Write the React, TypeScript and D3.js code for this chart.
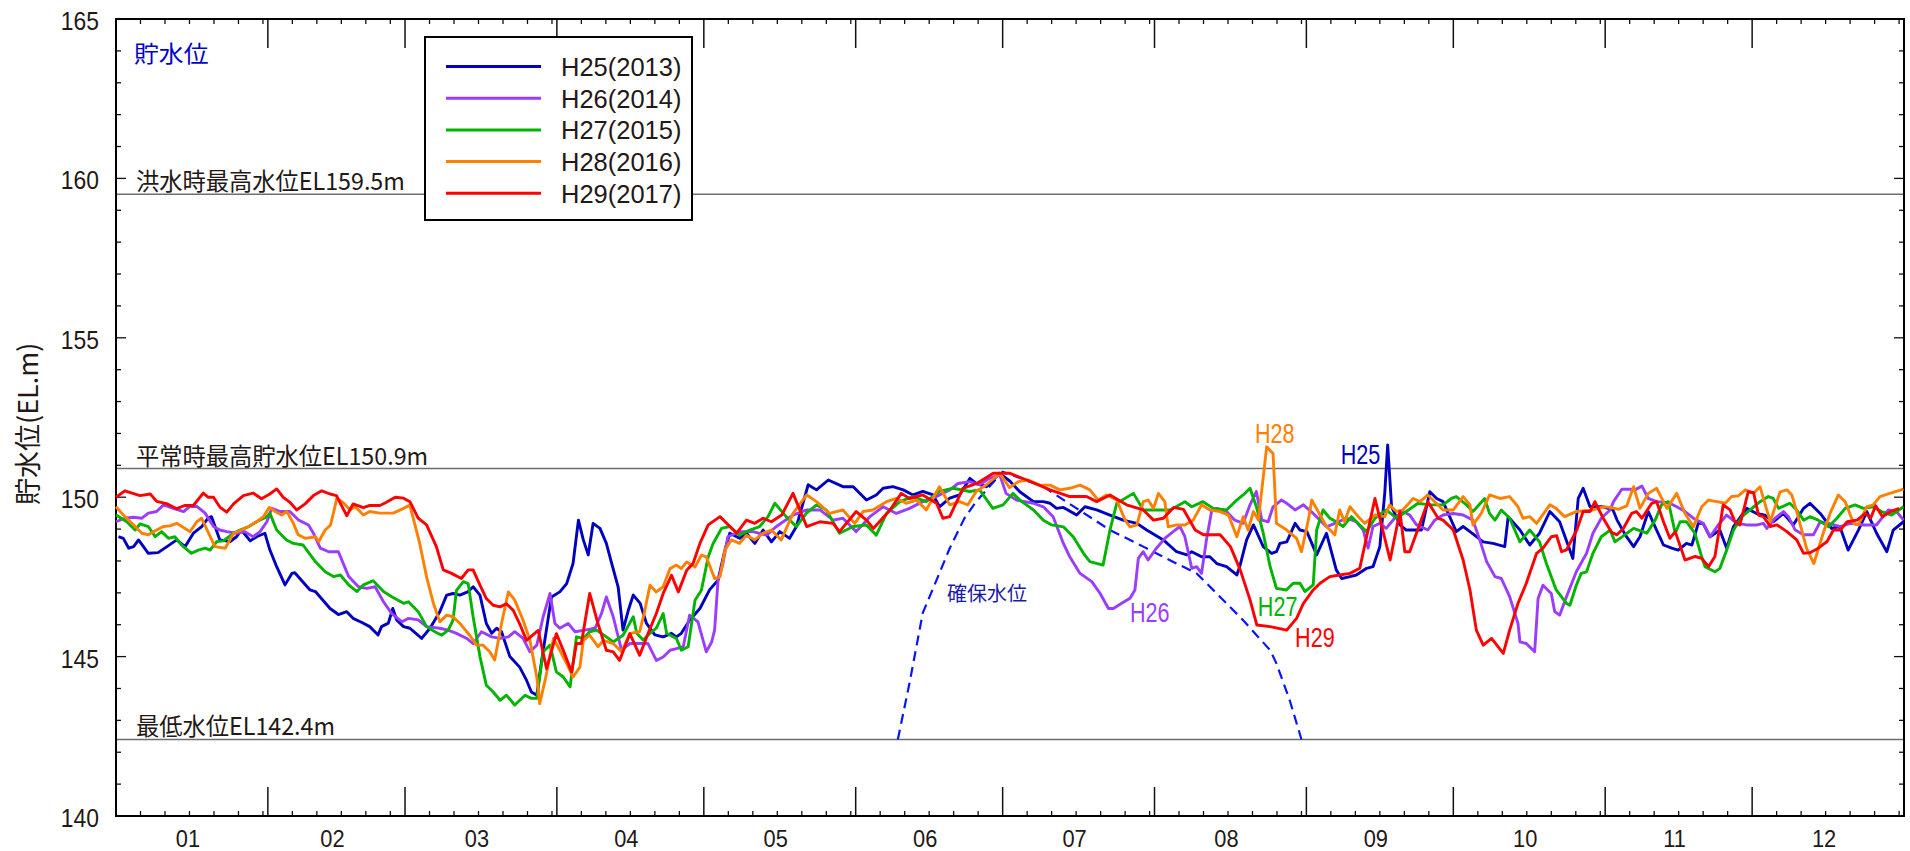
import { useRef, useEffect } from "react";
import * as d3 from "d3";

type Pt = [number, number];

// days from Jan 1, reservoir level (EL.m)
const MONTH_DAYS = [31, 28, 31, 30, 31, 30, 31, 31, 30, 31, 30, 31];
const MONTH_LABELS = ["01", "02", "03", "04", "05", "06", "07", "08", "09", "10", "11", "12"];
const Y_TICKS = [140, 145, 150, 155, 160, 165];

const LEVELS = [159.5, 150.9, 142.4];
const LEVEL_LABELS = ["洪水時最高水位EL159.5m", "平常時最高貯水位EL150.9m", "最低水位EL142.4m"];

const SERIES_NAMES = ["H25(2013)", "H26(2014)", "H27(2015)", "H28(2016)", "H29(2017)"];
const SERIES_SHORT = ["H25", "H26", "H27", "H28", "H29"];
const SERIES_COLORS = ["#0000c0", "#9b3dff", "#00b400", "#ff8000", "#ff0000"];

const H25: Pt[] = [[0.5,148.76],[1.5,148.71],[2.6,148.4],[3.6,148.45],[4.6,148.66],[6.6,148.24],[8.6,148.26],[10.4,148.45],[12.4,148.66],[14.1,148.45],[15.8,148.87],[17.5,149.08],[18.8,149.34],[19.5,149.39],[21.2,148.66],[23.3,148.61],[24.6,148.76],[25.6,148.97],[27.4,148.63],[28.7,148.76],[30.4,148.87],[31.4,148.35],[32.8,147.82],[34.5,147.25],[35.9,147.61],[36.5,147.63],[39.6,147.09],[40.7,147.04],[43.7,146.51],[45.4,146.32],[47.1,146.41],[48.4,146.2],[50.2,146.07],[51.8,145.94],[53.5,145.68],[54.2,145.94],[55.6,146.05],[56.5,146.51],[57.3,146.15],[58.7,145.94],[60,145.89],[62.4,145.57],[64.1,145.89],[66.1,146.41],[67.5,146.93],[68.8,146.98],[70.2,146.93],[71.9,147.04],[72.9,147.19],[74.3,146.93],[75.6,146.04],[76.7,145.73],[77.7,145.89],[78.7,145.78],[80.4,145.0],[82.4,144.67],[83.8,144.26],[84.8,143.89],[85.9,143.79],[86.9,144.88],[88.9,146.87],[90.6,147.03],[92,147.29],[93.3,147.92],[94.4,149.28],[95.4,148.66],[96.4,148.19],[97.4,149.18],[98.8,149.02],[100.1,148.55],[101.2,147.92],[102.5,147.19],[103.5,145.83],[104.6,146.46],[105.6,146.93],[107,146.67],[108.3,146.04],[110,145.68],[111.7,145.62],[113.4,145.73],[114.4,145.62],[115.4,145.73],[117.1,146.14],[119.2,146.51],[121.2,147.1],[122.9,147.4],[124.3,148.34],[125.3,148.87],[127.3,148.71],[128.7,148.87],[130.4,148.55],[132.1,148.97],[133.8,148.6],[135.5,148.92],[137.5,148.71],[138.9,149.08],[141.3,150.39],[143,150.23],[145.4,150.54],[148.4,150.33],[150.5,150.33],[153.2,149.91],[155.2,150.07],[156.6,150.28],[158.6,150.33],[160.7,150.23],[162.7,150.07],[164.7,150.18],[166.8,150.07],[168.1,149.7],[170.2,149.97],[172.2,150.07],[174.3,150.59],[175.6,150.43],[177.7,150.33],[180.4,150.75],[182.5,150.5],[184.5,150.17],[187.3,149.86],[189.3,149.86],[190.7,149.81],[192,149.65],[193.4,149.68],[196.1,149.44],[197.8,149.7],[200.2,149.6],[202.9,149.44],[205.6,149.28],[208.4,149.18],[210.4,148.97],[213.8,148.66],[216.5,148.29],[218.6,148.19],[219.6,148.29],[221.6,148.13],[223.3,148.13],[224.7,147.92],[226.7,147.82],[228.8,147.56],[229.4,147.82],[230.8,148.66],[232.2,149.13],[234.2,148.45],[235.9,148.24],[236.9,148.29],[237.6,148.55],[239,148.6],[240.7,149.18],[241.7,148.97],[243.1,148.92],[245.1,148.19],[247.1,148.87],[249.1,147.72],[250.2,147.45],[251.9,147.51],[253.2,147.56],[255.3,147.77],[256.6,147.82],[258,148.45],[259,150.12],[259.6,151.64],[260.4,149.7],[262.1,149.13],[263.4,148.97],[266.5,148.97],[268.2,150.17],[269.6,149.96],[270.9,149.86],[273.6,148.92],[275,149.08],[276.4,148.92],[279.1,148.6],[281.1,148.55],[283.5,148.45],[284.2,149.39],[286.6,148.97],[288.6,148.5],[290.6,148.87],[292.7,149.55],[294.7,149.23],[297.4,148.08],[298.5,149.96],[299.5,150.28],[300.9,149.7],[303.6,149.7],[305.6,149.6],[306.4,149.29],[308.1,148.82],[309.8,148.45],[311.1,148.76],[312.8,149.55],[314.5,148.97],[315.9,148.5],[317.6,148.4],[318.9,148.34],[320.6,148.55],[321.7,148.5],[323,149.18],[324,149.18],[325.4,148.76],[327.4,148.97],[328.8,148.4],[330.2,149.08],[332.9,149.65],[334.9,149.49],[336.6,149.44],[338.3,149.23],[340.4,149.49],[342.4,149.13],[344.5,149.65],[345.8,149.81],[347.9,149.49],[350.2,149.02],[351.9,149.08],[353.6,148.34],[355.7,148.97],[357.4,149.55],[359.4,148.87],[361.5,148.29],[362.8,148.97],[364.9,149.23]];

const H26: Pt[] = [[0,149.23],[1.8,149.34],[3.6,149.37],[5.3,149.34],[6.6,149.5],[8.3,149.55],[9.7,149.76],[11.7,149.65],[13.8,149.55],[15.1,149.71],[16.5,149.71],[18.2,149.5],[19.9,149.08],[21.2,148.97],[22.6,148.92],[24.6,148.87],[26.3,148.92],[28,148.76],[29.4,148.92],[30.8,149.23],[31.8,149.65],[33.5,149.55],[35.5,149.55],[37.2,149.29],[39.3,149.13],[40.3,148.87],[41.7,148.4],[43.4,148.29],[45.4,148.29],[47.5,147.51],[49.5,147.19],[51.2,147.14],[52.9,147.19],[54.6,146.72],[56.3,146.35],[58.4,146.09],[59.7,146.2],[61.7,146.15],[63.4,145.94],[66.1,145.89],[67.8,145.83],[69.5,145.73],[71.6,145.57],[72.9,145.41],[74.6,145.78],[76.7,145.62],[78.4,145.57],[80.1,145.62],[81.4,145.78],[83.1,145.57],[84.5,145.15],[85.9,145.36],[87.2,146.25],[88.6,146.98],[89.6,146.04],[90.6,145.89],[92.3,146.04],[93.7,145.78],[95.7,145.83],[97.8,145.89],[99.1,146.35],[100.1,146.87],[101.5,146.25],[103.2,145.2],[104.9,145.41],[106.9,145.41],[108.6,145.41],[110.3,144.88],[111.7,144.99],[113.1,145.2],[114.4,145.25],[115.8,145.31],[117.1,146.3],[118.8,146.09],[120.5,145.15],[121.6,145.46],[122.2,145.83],[122.9,147.4],[123.9,147.92],[124.9,148.76],[127.3,148.92],[130,148.92],[132.8,148.81],[134.8,149.08],[138.2,149.44],[141,149.6],[143.7,149.6],[146.4,149.28],[148.4,149.34],[151.1,148.92],[153.9,149.39],[156.6,149.7],[159.3,149.49],[162,149.65],[164.7,149.86],[167.5,150.02],[170.2,150.23],[171.9,150.43],[174.3,150.49],[176.3,150.39],[178.3,150.59],[180.4,150.7],[181.7,150.12],[183.8,149.91],[187.3,149.81],[189.3,149.7],[191.3,149.39],[193.4,148.55],[194.7,148.13],[196.8,147.61],[199.2,147.35],[200.9,146.98],[202.6,146.51],[203.6,146.51],[205.3,146.67],[207,146.83],[208,147.09],[208.7,148.08],[209.7,148.29],[210.7,148.03],[212.4,148.4],[214.1,148.71],[215.8,148.92],[217.2,149.08],[218.2,148.76],[219.6,147.77],[220.6,147.82],[221.6,147.61],[222.6,148.66],[223.7,149.6],[224.7,149.65],[226.7,149.55],[228.4,149.28],[230.1,149.18],[231.5,149.76],[232.8,150.18],[233.9,149.28],[235.2,149.23],[236.2,149.7],[237.9,149.91],[239,149.81],[240.7,149.6],[242.4,149.76],[244.4,149.49],[245.4,149.34],[247.1,149.07],[248.8,149.18],[251.2,149.34],[253.2,149.23],[254.6,148.97],[255.6,148.4],[256.6,149.08],[258,149.18],[259.3,149.02],[261,149.34],[262.7,149.55],[264.1,149.44],[265.5,149.13],[267.8,148.97],[269.2,149.28],[270.9,149.44],[273,149.49],[275,149.44],[277,149.28],[278.4,148.66],[279.8,147.98],[281.5,147.51],[282.8,147.45],[284.5,146.88],[286.2,146.04],[286.6,145.46],[287.9,145.41],[289.6,145.15],[290.3,146.82],[291.3,147.24],[293,146.98],[293.7,146.41],[294.7,146.3],[296.1,146.88],[298.1,147.66],[300.2,148.24],[301.5,148.87],[303.2,149.34],[305,149.6],[305.7,149.86],[307.4,150.25],[309.1,150.25],[310.1,150.23],[311.5,150.35],[312.8,149.96],[314.5,149.86],[316.9,149.83],[318.6,149.7],[320.3,149.55],[322,149.34],[324,149.18],[325.4,148.76],[327.1,149.13],[328.8,149.44],[330.9,149.18],[332.9,149.13],[335,149.13],[336.3,149.18],[337,149.02],[338.7,149.34],[340.4,149.55],[341.4,149.39],[342.8,148.97],[344.5,148.82],[346.5,148.82],[347.9,149.23],[349.6,149.18],[352,149.08],[354,149.18],[356.7,149.13],[359.4,149.13],[361.8,149.6],[363.5,149.55],[364.9,149.28]];

const H27: Pt[] = [[0,149.44],[2.2,149.23],[3.9,148.97],[4.9,149.16],[6.6,149.08],[8,148.76],[9.3,148.92],[10.7,148.71],[12,148.76],[13.4,148.5],[15.4,148.24],[16.8,148.34],[18.2,148.4],[19.2,148.34],[20.6,148.61],[21.9,148.63],[24,148.87],[25.3,148.97],[27.1,149.08],[28.7,149.23],[30.8,149.39],[31.4,149.5],[32.8,148.97],[34.8,148.66],[36.2,148.55],[38.2,148.5],[40.7,147.98],[42.7,147.66],[44.4,147.51],[45.8,147.56],[47.5,147.25],[49.2,147.04],[50.5,147.25],[52.5,147.38],[54.6,147.04],[56.3,146.88],[58.7,146.67],[59.7,146.72],[61.7,146.41],[63.4,145.94],[65.1,145.78],[66.5,145.67],[67.8,145.83],[68.8,146.14],[69.5,147.08],[70.9,147.35],[71.9,147.29],[72.9,146.25],[74.3,145.0],[75.6,144.1],[77,143.89],[78.4,143.63],[79.7,143.79],[81.4,143.48],[83.5,143.79],[84.8,143.69],[85.9,143.69],[87.2,145.15],[88.6,145.36],[89.9,144.52],[91.3,144.36],[92.7,144.05],[94,145.62],[95.4,145.57],[96.7,145.78],[98.1,145.83],[100.1,145.62],[101.5,145.46],[103.5,145.67],[105.6,146.25],[106.3,145.73],[107.6,145.52],[109,145.73],[110.3,145.89],[111.7,146.35],[112.4,145.73],[114.4,145.57],[115.4,145.2],[116.8,145.31],[118.2,146.77],[119.5,147.08],[120.9,148.13],[121.9,148.55],[123.6,149.02],[125.3,149.08],[127.3,148.81],[129.4,148.97],[131.4,149.08],[133.1,149.39],[134.5,149.81],[136.8,149.39],[138.9,149.08],[140.9,149.49],[143,149.76],[145,149.6],[147.7,148.87],[150.5,149.08],[153.2,149.13],[155.2,148.81],[157.3,149.49],[160,149.86],[162.7,150.02],[165.4,149.86],[168.1,150.18],[170.9,150.28],[174.3,150.18],[176.3,150.23],[179,149.65],[181.1,149.76],[183.1,150.12],[184.5,149.91],[187.3,149.6],[189.3,149.28],[191,149.13],[193.4,149.07],[195.4,148.76],[197.5,148.24],[198.8,147.98],[201.5,147.87],[202.9,148.97],[204.3,149.81],[207.7,150.12],[209.7,149.6],[212.4,149.6],[215.2,149.6],[218.2,149.86],[219.6,149.7],[221.9,149.86],[224,149.65],[226.7,149.6],[228.8,149.91],[230.1,150.07],[231.5,150.28],[232.8,149.7],[234.2,148.87],[235.6,147.82],[236.9,147.14],[238.9,147.09],[240.3,147.3],[241.7,147.3],[242.7,147.04],[244.4,147.25],[245.1,148.97],[246.4,149.6],[247.8,149.34],[249.1,149.23],[250.5,149.08],[252.2,149.39],[253.9,149.13],[255.3,148.92],[257,149.34],[259.3,149.6],[261.4,149.34],[263.4,149.55],[265.8,149.81],[268.2,149.76],[270.9,149.76],[272.6,149.96],[273.6,150.02],[275.7,149.76],[277,149.55],[279.4,149.96],[280.4,149.49],[281.5,149.28],[282.8,149.6],[284.5,149.34],[286.6,148.6],[288.6,148.97],[290.6,148.6],[292,147.92],[294,147.09],[296.1,146.67],[296.8,146.61],[298.1,147.24],[299.1,147.61],[300.2,147.66],[301.5,148.24],[303.2,148.76],[305,148.97],[306,148.6],[307,148.71],[309.8,149.02],[312.5,148.87],[314.2,149.28],[315.5,149.76],[316.9,149.86],[318.3,148.87],[319.3,149.23],[320.6,149.23],[322.3,148.87],[323.7,148.13],[324.4,147.82],[326.4,147.66],[327.4,147.76],[328.8,148.34],[330.2,148.97],[331.9,149.39],[333.6,149.6],[335.6,149.86],[337.3,150.02],[338.3,149.96],[339.4,149.65],[341.7,149.81],[343.1,149.6],[344.5,149.28],[345.8,149.39],[347.5,149.28],[349.6,149.07],[351.3,149.34],[353,149.65],[355,149.76],[356.7,149.65],[358.7,149.7],[360.4,149.55],[362.5,149.44],[364.9,149.7]];

const H28: Pt[] = [[0,149.7],[1.8,149.39],[3.6,149.13],[5.3,148.87],[6.6,148.82],[8.3,148.97],[9.7,149.08],[11,149.1],[12.4,149.18],[14.1,149.02],[15.1,148.92],[16.5,149.23],[17.5,149.34],[18.9,148.87],[20.2,148.45],[22.3,148.4],[24,148.87],[25.6,148.97],[27.1,149.08],[28.7,149.23],[30.1,149.39],[31.3,149.68],[32.5,149.55],[33.8,149.44],[34.9,149.55],[36.2,149.18],[37.2,148.82],[38.6,148.71],[40.7,148.76],[41.4,148.61],[42.7,148.97],[43.8,149.13],[45.1,149.97],[46.5,149.81],[47.8,149.6],[48.8,149.71],[50.5,149.44],[51.8,149.55],[53.9,149.5],[56.6,149.5],[58.7,149.65],[60,149.75],[62,148.55],[63.4,147.5],[64.8,146.67],[66.1,146.09],[67.5,146.3],[68.8,146.25],[70.2,146.04],[72.2,145.67],[73.6,145.36],[74.9,145.36],[76.3,145.15],[77.3,144.89],[78.7,146.04],[80.1,147.03],[81.4,146.77],[83.1,146.14],[84.5,145.51],[85.9,144.36],[86.5,143.52],[87.6,144.26],[89.3,145.57],[90.6,145.2],[92,144.78],[93.3,144.36],[94.7,144.67],[95.4,145.51],[96.7,145.67],[98.4,145.31],[99.5,145.51],[101.5,145.41],[103.2,145.15],[104.9,145.73],[106.9,145.78],[107.9,146.41],[109,147.24],[110.3,147.03],[111.7,147.19],[113.1,147.76],[114.4,147.87],[115.4,147.76],[116.5,147.97],[118.2,147.81],[119.5,148.18],[120.5,148.13],[122.2,147.45],[123.3,147.5],[124.3,148.34],[125.6,148.66],[127.3,148.55],[128.7,148.81],[130.4,148.66],[132.1,148.87],[133.8,148.97],[135.8,148.66],[138.2,149.49],[141,150.07],[143,149.86],[145.7,149.49],[148.4,149.6],[150.8,149.18],[152.5,149.55],[154.5,149.6],[157.3,149.86],[159.3,149.96],[161.3,149.81],[163.4,149.91],[165.4,149.6],[168.1,150.33],[170.2,149.76],[172.2,149.86],[173.9,149.76],[175.6,150.18],[177.7,150.39],[180.4,150.75],[182.4,150.3],[184.2,150.49],[186.2,150.54],[188.6,150.38],[190.7,150.38],[192.7,150.23],[194.7,150.28],[196.8,150.38],[198.8,150.23],[200.5,149.91],[202.2,150.07],[204.3,149.91],[206,149.28],[207,149.07],[208.4,149.13],[209.7,149.86],[210.7,149.91],[211.8,149.65],[212.8,150.12],[214.1,149.86],[214.8,149.07],[216.5,149.13],[218.2,149.13],[219.9,149.28],[221.6,149.76],[223.3,149.6],[225.4,149.55],[227.1,149.44],[228.8,148.76],[230.1,149.39],[231.1,148.97],[232.2,149.55],[233.2,149.28],[234.9,151.58],[236.2,151.37],[236.9,149.18],[239,148.97],[241,148.71],[242,148.29],[243.4,149.28],[244.1,149.91],[245.8,149.44],[247.1,149.08],[248.8,148.82],[249.8,149.6],[250.8,149.23],[251.9,149.7],[253.6,149.39],[254.9,149.18],[257,149.44],[259,149.39],[260,149.76],[261.4,149.55],[262.7,149.6],[264.8,149.96],[266.2,149.86],[267.8,150.07],[269.2,149.86],[270.9,149.6],[273,149.6],[275,150.02],[276.4,149.76],[277,149.13],[278.7,149.49],[280.4,150.07],[282.5,149.96],[284.5,150.02],[286.2,149.7],[287.2,149.34],[288.6,149.39],[290,149.18],[292.7,149.76],[294,149.65],[295.7,149.39],[298.1,149.55],[301.5,149.6],[303.6,149.7],[305,149.68],[306.7,149.62],[308.4,149.73],[309.8,150.33],[311.1,149.65],[312.8,150.12],[314.5,150.28],[316.6,149.65],[318.6,150.12],[320.3,149.49],[322,149.07],[323.7,149.7],[325.1,149.91],[326.8,149.86],[328.5,149.81],[329.8,150.02],[331.2,150.04],[332.6,150.23],[334.3,150.12],[335.6,150.33],[337.7,149.23],[339.7,150.17],[341.1,150.23],[342.1,150.07],[343.1,149.55],[345.1,148.4],[346.6,147.92],[348.5,148.87],[349.9,149.49],[351.6,150.07],[353,149.86],[354.7,149.18],[355.7,149.13],[357.4,149.7],[358.7,149.76],[360.1,150.02],[362.1,150.12],[364.9,150.25]];

const H29: Pt[] = [[0,150.0],[1.8,150.2],[4.9,150.05],[7,150.1],[8.3,149.87],[10.3,149.8],[12.4,149.64],[14,149.74],[15.8,149.74],[17.8,150.13],[18.8,150.0],[19.9,150.0],[21.2,149.69],[22.6,149.53],[24,149.79],[26,150.05],[28,150.13],[29.7,149.95],[31.4,150.1],[32.8,150.26],[34.1,150.0],[35.5,149.84],[36.9,149.6],[38.6,149.79],[40.3,150.05],[42,150.2],[43.7,150.1],[45,150.05],[47.1,149.42],[48.4,149.79],[50.5,149.67],[51.8,149.74],[53.9,149.74],[55.2,149.84],[57,150.0],[58.7,149.97],[60,149.86],[61.7,149.34],[63.4,149.13],[65.4,148.45],[66.8,147.72],[68.5,147.61],[70.5,147.45],[71.9,147.72],[72.9,147.72],[74.3,147.24],[75.6,146.82],[77,146.61],[78.4,146.56],[79.7,146.66],[81.1,146.45],[82.4,146.03],[83.8,145.51],[86.2,145.82],[87.9,144.62],[89.9,145.72],[91.3,145.2],[93,144.52],[94,145.41],[95,145.41],[96.7,146.98],[98.4,146.03],[100.1,145.2],[101.5,145.15],[102.8,144.88],[104.9,145.72],[106.9,145.04],[108.6,145.72],[110.3,146.35],[111.7,146.98],[113.4,147.55],[114.8,147.03],[116.5,147.71],[117.8,147.92],[119.2,148.55],[120.9,149.13],[123.3,149.39],[126.7,148.87],[128.7,149.28],[130.4,149.18],[132.1,149.34],[133.8,149.23],[135.9,149.44],[138.2,150.12],[141,149.08],[143.7,149.23],[146.4,149.18],[147.7,148.92],[151.1,149.55],[153.2,149.28],[154.6,149.02],[158,149.6],[160.3,150.12],[162,149.96],[164.7,150.07],[167.5,149.81],[168.8,149.34],[170.2,149.39],[172.9,150.28],[175.7,150.43],[179.1,150.75],[182.5,150.75],[185.9,150.54],[190.7,150.23],[194.7,150.02],[198.1,150.02],[200.2,149.86],[202.9,150.07],[206.3,149.76],[209.7,149.6],[211.8,149.28],[213.8,149.34],[215.9,149.68],[217.9,149.62],[220.3,148.97],[222,148.82],[225.4,148.82],[227.5,148.45],[229.5,147.72],[231.5,146.78],[232.9,145.99],[235.6,145.94],[239,145.83],[241,146.2],[242.4,146.67],[244.4,147.09],[245.8,147.3],[247.8,147.51],[249.8,147.56],[251.9,147.61],[253.9,147.77],[257,149.96],[260.1,148.03],[262.1,149.55],[263.1,148.29],[264.1,148.29],[267.8,149.86],[269.9,149.34],[270.9,149.28],[273,148.97],[275,148.03],[276.4,147.09],[277.7,145.83],[279.1,145.36],[280.8,145.57],[283.2,145.1],[284.5,145.83],[286.2,146.67],[287.9,147.3],[290,148.24],[291.3,148.4],[293,148.76],[294.1,148.79],[295.1,148.29],[296.1,148.35],[298.2,148.97],[299.5,149.55],[300.9,149.55],[301.9,149.86],[303.6,149.34],[305.3,148.9],[306.4,148.82],[307.7,149.02],[309.4,149.49],[310.4,149.55],[311.5,149.34],[313.5,149.81],[314.5,149.86],[315.9,149.23],[317.2,148.71],[318.3,148.92],[320.3,148.03],[322.4,148.14],[323.7,148.08],[325.1,147.82],[326.4,148.14],[328.1,149.76],[329.5,149.6],[330.5,149.23],[331.5,149.13],[333.2,150.17],[334.3,150.14],[335.3,149.44],[336.3,149.39],[337.7,149.08],[339.1,149.13],[341.1,148.92],[343.1,148.66],[344.5,148.24],[345.8,148.26],[347.5,148.4],[349.3,148.61],[350.6,148.97],[352,148.97],[353.4,149.23],[355.4,149.28],[357.1,149.49],[358.2,149.34],[359.2,149.73],[360.6,149.39],[362.3,149.55],[364,149.65]];

// 確保水位 (dashed guide curve)
const KAKUHO: Pt[] = [[159.6,142.4],[162,144.18],[164.7,146.37],[167.5,147.4],[170.2,148.4],[173.2,149.34],[175.6,149.86],[177.7,150.23],[181,150.8],[189.3,150.33],[196.1,149.65],[202.9,148.97],[209.7,148.45],[216.5,147.92],[220.6,147.61],[224.7,146.98],[230.1,146.14],[235.6,145.2],[236.9,144.78],[239.6,143.63],[242,142.4]];

// where the short series names sit (day, level at baseline)
const SHORT_LABEL_AT: Pt[] = [[250, 151.04], [207, 146.09], [233.1, 146.27], [232.5, 151.7], [240.7, 145.3]];

const LATIN = '"Liberation Sans", Arial, sans-serif';
const CJK = '"Noto Sans CJK JP", "Noto Sans CJK SC", sans-serif';
const INK = "#231815";

export default function App() {
  const svgRef = useRef<SVGSVGElement>(null);

  useEffect(() => {
    if (!svgRef.current) return;
    document.body.style.margin = "0";
    document.body.style.overflow = "hidden";

    const W = 1910;
    const H = 851;
    const svg = d3.select(svgRef.current);
    svg.selectAll("*").remove();
    svg.attr("width", W).attr("height", H).attr("viewBox", `0 0 ${W} ${H}`);

    const x = d3.scaleLinear().domain([0, 365]).range([116, 1904]);
    const y = d3.scaleLinear().domain([140, 165]).range([816, 19]);
    const [x0, x1] = x.range();
    const [y0, y1] = y.range();

    // squeezed text helper (the source font is narrow)
    const label = (
      g: d3.Selection<SVGGElement, unknown, null, undefined>,
      tx: number, ty: number, str: string,
      opts: { size: number; sx?: number; anchor?: string; fill?: string; family?: string }
    ) =>
      g.append("text")
        .attr("transform", `translate(${tx},${ty}) scale(${opts.sx ?? 1},1)`)
        .attr("text-anchor", opts.anchor ?? "start")
        .style("font-family", opts.family ?? LATIN)
        .style("font-size", `${opts.size}px`)
        .style("fill", opts.fill ?? INK)
        .text(str);

    const root = svg.append("g");

    // reference levels
    LEVELS.forEach((lv, i) => {
      root.append("line")
        .attr("x1", x0).attr("x2", x1)
        .attr("y1", y(lv)).attr("y2", y(lv))
        .attr("stroke", "#6e6e6e").attr("stroke-width", 1.5);
      label(root, 136, y(lv) - 4, LEVEL_LABELS[i], { size: 24, sx: 0.97, family: CJK });
    });

    // month ticks
    const starts = [0, ...d3.cumsum(MONTH_DAYS)];
    const ticks = root.append("g").attr("stroke", "#111");
    MONTH_DAYS.forEach((n, m) => {
      const s = starts[m];
      if (m > 0) {
        ticks.append("line").attr("x1", x(s)).attr("x2", x(s)).attr("y1", y0).attr("y2", y0 - 29).attr("stroke-width", 1.5);
        ticks.append("line").attr("x1", x(s)).attr("x2", x(s)).attr("y1", y1).attr("y2", y1 + 29).attr("stroke-width", 1.5);
      }
      for (let k = 5; k < n; k += 5) {
        ticks.append("line").attr("x1", x(s + k)).attr("x2", x(s + k)).attr("y1", y0).attr("y2", y0 - 5).attr("stroke-width", 1.3);
        ticks.append("line").attr("x1", x(s + k)).attr("x2", x(s + k)).attr("y1", y1).attr("y2", y1 + 5).attr("stroke-width", 1.3);
      }
      label(root, (x(s) + x(s + n)) / 2 - 4, 847, MONTH_LABELS[m], { size: 23, sx: 0.95, anchor: "middle" });
    });

    // level ticks, both sides
    d3.range(140, 166).forEach((v) => {
      const len = v % 5 === 0 ? 10 : 5;
      ticks.append("line").attr("x1", x0).attr("x2", x0 + len).attr("y1", y(v)).attr("y2", y(v)).attr("stroke-width", 1.3);
      ticks.append("line").attr("x1", x1).attr("x2", x1 - len).attr("y1", y(v)).attr("y2", y(v)).attr("stroke-width", 1.3);
    });
    Y_TICKS.forEach((v) => label(root, 99, y(v) + 11, String(v), { size: 26, sx: 0.88, anchor: "end" }));

    // frame
    root.append("rect")
      .attr("x", x0).attr("y", y1).attr("width", x1 - x0).attr("height", y0 - y1)
      .attr("fill", "none").attr("stroke", "#000").attr("stroke-width", 2);

    // axis title
    root.append("text")
      .attr("transform", `translate(38,505) rotate(-90)`)
      .style("font-family", CJK).style("font-size", "27px").style("fill", INK)
      .text("貯水位(EL.m)");

    label(root, 134, 62, "貯水位", { size: 23, sx: 1.08, family: CJK, fill: "#0000cc" });

    // 確保水位
    const line = d3.line<Pt>().x((d) => x(d[0])).y((d) => y(d[1]));
    root.append("path")
      .attr("d", line(KAKUHO))
      .attr("fill", "none").attr("stroke", "#0a14ff").attr("stroke-width", 2.2)
      .attr("stroke-dasharray", "10,6");
    label(root, 947, 601, "確保水位", { size: 20, family: CJK, fill: "#1a1aa8" });

    // series
    const all = [H25, H26, H27, H28, H29];
    all.forEach((data, i) => {
      root.append("path")
        .attr("d", line(data))
        .attr("fill", "none")
        .attr("stroke", SERIES_COLORS[i])
        .attr("stroke-width", 2.9)
        .attr("stroke-linejoin", "round");
    });
    SHORT_LABEL_AT.forEach(([d, v], i) =>
      label(root, x(d), y(v), SERIES_SHORT[i], { size: 27, sx: 0.8, fill: SERIES_COLORS[i] })
    );

    // legend
    const lg = root.append("g");
    lg.append("rect").attr("x", 425).attr("y", 37).attr("width", 267).attr("height", 183)
      .attr("fill", "#fff").attr("stroke", "#000").attr("stroke-width", 2);
    SERIES_NAMES.forEach((name, i) => {
      const ry = 66.5 + i * 31.7;
      lg.append("line").attr("x1", 446).attr("x2", 541).attr("y1", ry).attr("y2", ry)
        .attr("stroke", SERIES_COLORS[i]).attr("stroke-width", 3);
      label(lg, 561, ry + 9.5, name, { size: 26, sx: 0.98 });
    });
  }, []);

  return <svg ref={svgRef} style={{ display: "block" }} />;
}
